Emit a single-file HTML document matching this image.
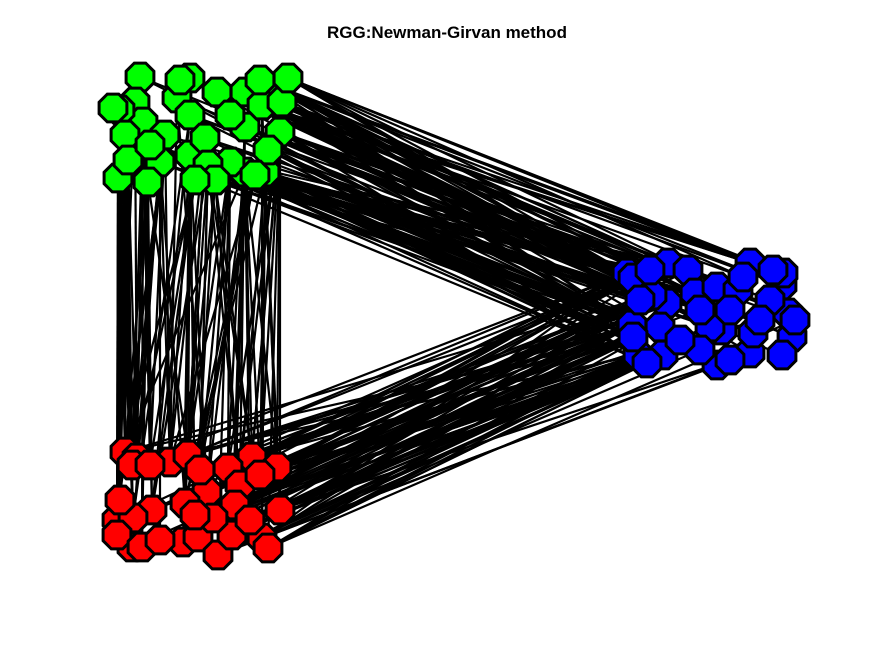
<!DOCTYPE html>
<html><head><meta charset="utf-8"><style>
html,body{margin:0;padding:0;background:#fff;}
svg{display:block;}
</style></head><body>
<svg id="chart" width="875" height="656" viewBox="0 0 875 656" xmlns="http://www.w3.org/2000/svg">
<rect width="875" height="656" fill="#fff"/>
<text x="447" y="38" text-anchor="middle" font-family="Liberation Sans, sans-serif" font-weight="bold" font-size="17" fill="#000">RGG:Newman-Girvan method</text>
<g id="edges"></g>
<g id="nodes"></g>
</svg>
<script>
// node coordinates (x, y) and community membership
const nodeX = [140,190,217,245,280,135,177,190,143,120,245,280,190,160,245,265,118,148,230,205,262,282,165,125,208,288,
125,137,170,188,252,277,228,240,207,185,152,117,133,132,117,142,183,198,218,232,262,268,235,132,213,
627,633,668,688,695,667,652,717,738,750,782,783,788,792,782,750,753,722,710,717,660,632,638,663,633,647,743,773,
113,128,180,260,230,215,268,150,195,255,
150,200,260,120,160,250,195,280,
640,700,730,770,700,680,760,650,795,730];
const nodeY = [77,78,92,92,88,102,98,115,122,110,127,132,155,162,172,172,178,182,162,138,105,102,135,135,165,78,
452,458,462,455,457,467,468,485,492,503,510,520,518,547,535,547,542,537,555,535,538,548,505,465,518,
273,278,263,270,293,303,295,287,290,263,285,273,313,337,355,353,333,330,327,365,327,325,355,355,337,363,277,270,
108,160,80,80,115,180,150,145,180,175,
465,470,475,500,540,520,515,510,
300,310,310,300,350,340,320,270,320,360];
const community = [0,0,0,0,0,0,0,0,0,0,0,0,0,0,0,0,0,0,0,0,0,0,0,0,0,0,
1,1,1,1,1,1,1,1,1,1,1,1,1,1,1,1,1,1,1,1,1,1,1,1,1,
2,2,2,2,2,2,2,2,2,2,2,2,2,2,2,2,2,2,2,2,2,2,2,2,2,2,2,2,
0,0,0,0,0,0,0,0,0,0,
1,1,1,1,1,1,1,1,
2,2,2,2,2,2,2,2,2,2];
const communityColors = ["#00ff00","#ff0000","#0000ff"];
// adjacency: "source:target,target,..."
const adjacency = [
"4:51,53,60,62,72,55,69,97,104,78,61","25:51,54,60,78,57,66,62,77,104","21:52,53,58,61,71,75,97,98,63","11:51,56,59,63,72,76,99,105,64","20:52,54,60,64,57,100,78,58",
"15:51,55,68,72,73,71,101,97,75","14:53,57,69,75,74,102,52,56","10:52,56,58,65,72,98,51,104","3:51,54,59,62,97,72,57","18:53,57,67,75,71,52","12:51,71,72,76,75",
"2:52,55,60,104,51","1:51,57,77,72","24:53,72,74,97","7:56,75,51","19:52,73,97","0:51,72","6:57,75","22:51,73","13:72,76",
"82:51,53,60,72,104,97,55","86:52,57,71,72,75,98,76","88:51,56,73,97,72","84:53,57,72,75,104","85:71,72,75,97",
"16:26,27,37,40,49,38,92","17:26,29,36,41,49,89","13:27,28,35,49,39,93","23:26,37,40,38,92","8:27,36,49,41,89","12:28,29,34,35,42,95",
"24:29,30,33,36,43,90","14:30,31,34,48,26,91,94","15:31,33,46,35,96,91","11:30,31,32,47,91,96","18:29,32,34,44,90","22:26,37,49,28,89","9:26,40,49,92",
"5:27,37","19:28,35,42","10:32,33,45","20:31,46","21:30,48","7:36,38","6:28,34","80:26,27,37,40,92,49","84:30,33,29,95","88:28,35,42,90","87:26,36,49,89",
"30:51,52,55,72,56,58,97,103","31:51,53,57,71,72,75,97,98","33:52,56,73,74,69,97,103","46:51,57,72,76,70,66,101,97","47:55,71,73,76,74,105,102",
"48:52,54,72,75,68,97,103","45:53,71,76,74,102","32:51,56,72,97","34:57,73,71,75","29:51,52,75,72","44:73,76,70,74,102","50:72,75,69,97",
"42:71,76,75","43:57,74,66,72","35:51,72,97","36:52,75","28:56,72","49:51,73","26:57,75","39:72,76","41:71,74","37:52,73",
"91:51,52,72,97,75,57","96:72,75,76,97,71,73","95:51,72,76,74,97","94:73,75,76","90:52,57,72,97"
];
const edgesG = document.getElementById('edges');
const nodesG = document.getElementById('nodes');
const NS = 'http://www.w3.org/2000/svg';
adjacency.forEach(function(entry){
  const parts = entry.split(':');
  const s = +parts[0];
  parts[1].split(',').forEach(function(t){
    t = +t;
    const ln = document.createElementNS(NS,'line');
    ln.setAttribute('x1',nodeX[s]); ln.setAttribute('y1',nodeY[s]);
    ln.setAttribute('x2',nodeX[t]); ln.setAttribute('y2',nodeY[t]);
    ln.setAttribute('stroke','#000'); ln.setAttribute('stroke-width','2.2');
    
    
    edgesG.appendChild(ln);
  });
});
const R = 15;
for (let i = 0; i < nodeX.length; i++) {
  const pts = [];
  for (let k = 0; k < 8; k++) {
    const a = Math.PI/8 + k*Math.PI/4;
    pts.push((nodeX[i] + R*Math.cos(a)).toFixed(1) + ',' + (nodeY[i] + R*Math.sin(a)).toFixed(1));
  }
  const p = document.createElementNS(NS,'polygon');
  p.setAttribute('points', pts.join(' '));
  p.setAttribute('fill', communityColors[community[i]]);
  p.setAttribute('stroke', '#000');
  p.setAttribute('stroke-width', '3');
  
  
  nodesG.appendChild(p);
}
</script>
</body></html>
